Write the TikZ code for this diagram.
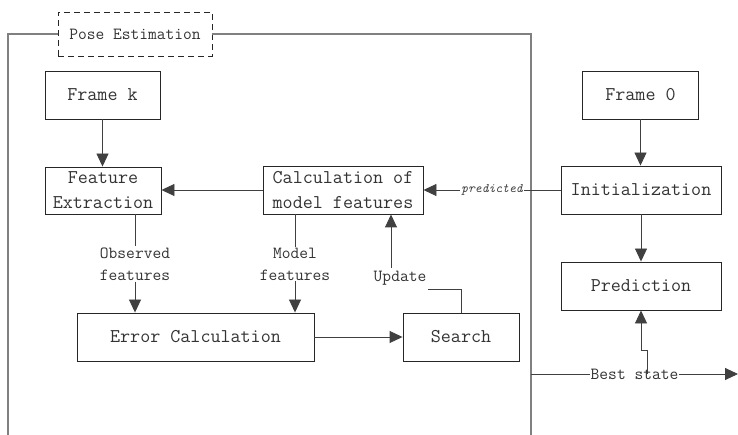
\documentclass[tikz,border=0pt]{standalone}
\usetikzlibrary{arrows.meta}
\begin{document}
\begin{tikzpicture}[x=1pt,y=-1pt,
  box/.style={draw=black!85,line width=0.9pt,minimum height=48pt,inner sep=2pt,align=center,
    font=\ttfamily\fontsize{19.5}{25}\selectfont,text=black!80},
  lbl/.style={align=center,inner sep=1pt,font=\ttfamily\fontsize{17}{22}\selectfont,text=black!80},
  conn/.style={draw=black!75,line width=0.9pt},
  arr/.style={conn,-{Triangle[length=13pt,width=12pt]}},
  frame/.style={draw=black!50,line width=1.6pt}]
\useasboundingbox (0,0) rectangle (738,435);
% nodes
\node[box,dash pattern=on 6pt off 4pt,minimum width=154pt,minimum height=44pt,font=\ttfamily\fontsize{17}{22}\selectfont] (pose) at (135,34) {Pose Estimation};
\node[box,minimum width=115pt] (framek) at (102.5,95) {Frame k};
\node[box,minimum width=116pt,minimum height=47pt] (fe) at (103,190.5) {Feature\\Extraction};
\node[box,minimum width=160pt] (calc) at (343,190) {Calculation of\\model features};
\node[box,minimum width=116pt] (framez) at (640.5,95) {Frame 0};
\node[box,minimum width=160pt] (init) at (641,190) {Initialization};
\node[box,minimum width=160pt] (pred) at (641,286) {Prediction};
\node[box,minimum width=237pt] (err) at (195.5,337) {Error Calculation};
\node[box,minimum width=116pt] (search) at (461,337) {Search};
\node[lbl] (obs) at (135,264) {Observed\\features};
\node[lbl] (modf) at (295,264) {Model\\features};
\node[lbl] (upd) at (400,278) {Update};
% frame
\coordinate (fl) at (8,435);
\coordinate (fr) at (531,435);
\draw[frame] (pose.west) -| (fl);
\draw[frame] (pose.east) -| (fr);
% connectors
\draw[arr] (framek) -- (framek |- fe.north);
\draw[arr] (calc.west) -- (fe.east |- calc.west);
\draw[conn] (obs.north |- fe.south) -- (obs.north);
\draw[arr] (obs.south) -- (obs.south |- err.north);
\draw[conn] (modf.north |- calc.south) -- (modf.north);
\draw[arr] (modf.south) -- (modf.south |- err.north);
\draw[arr] (err.east) -- (search.west);
\coordinate (u1) at (428,289);
\draw[conn] (search.north) |- (u1);
\coordinate (u2) at (391,268);
\draw[arr] (u2) -- (u2 |- calc.south);
\draw[arr] (framez) -- (framez |- init.north);
\draw[arr] (init) -- (pred);
\draw[arr] (init.west) -- node[fill=white,inner sep=1pt,font=\ttfamily\itshape\fontsize{13}{15}\selectfont,text=black!75] (plab) {predicted} (calc.east);
\coordinate (bs0) at (531,374);
\coordinate (bs1) at (738,374);
\draw[arr] (bs0) -- node[lbl,fill=white] (best) {Best state} (bs1);
\coordinate (j1) at (647,374);
\draw[arr] (j1) -- (647,350) -| (pred.south);
\end{tikzpicture}
\end{document}
